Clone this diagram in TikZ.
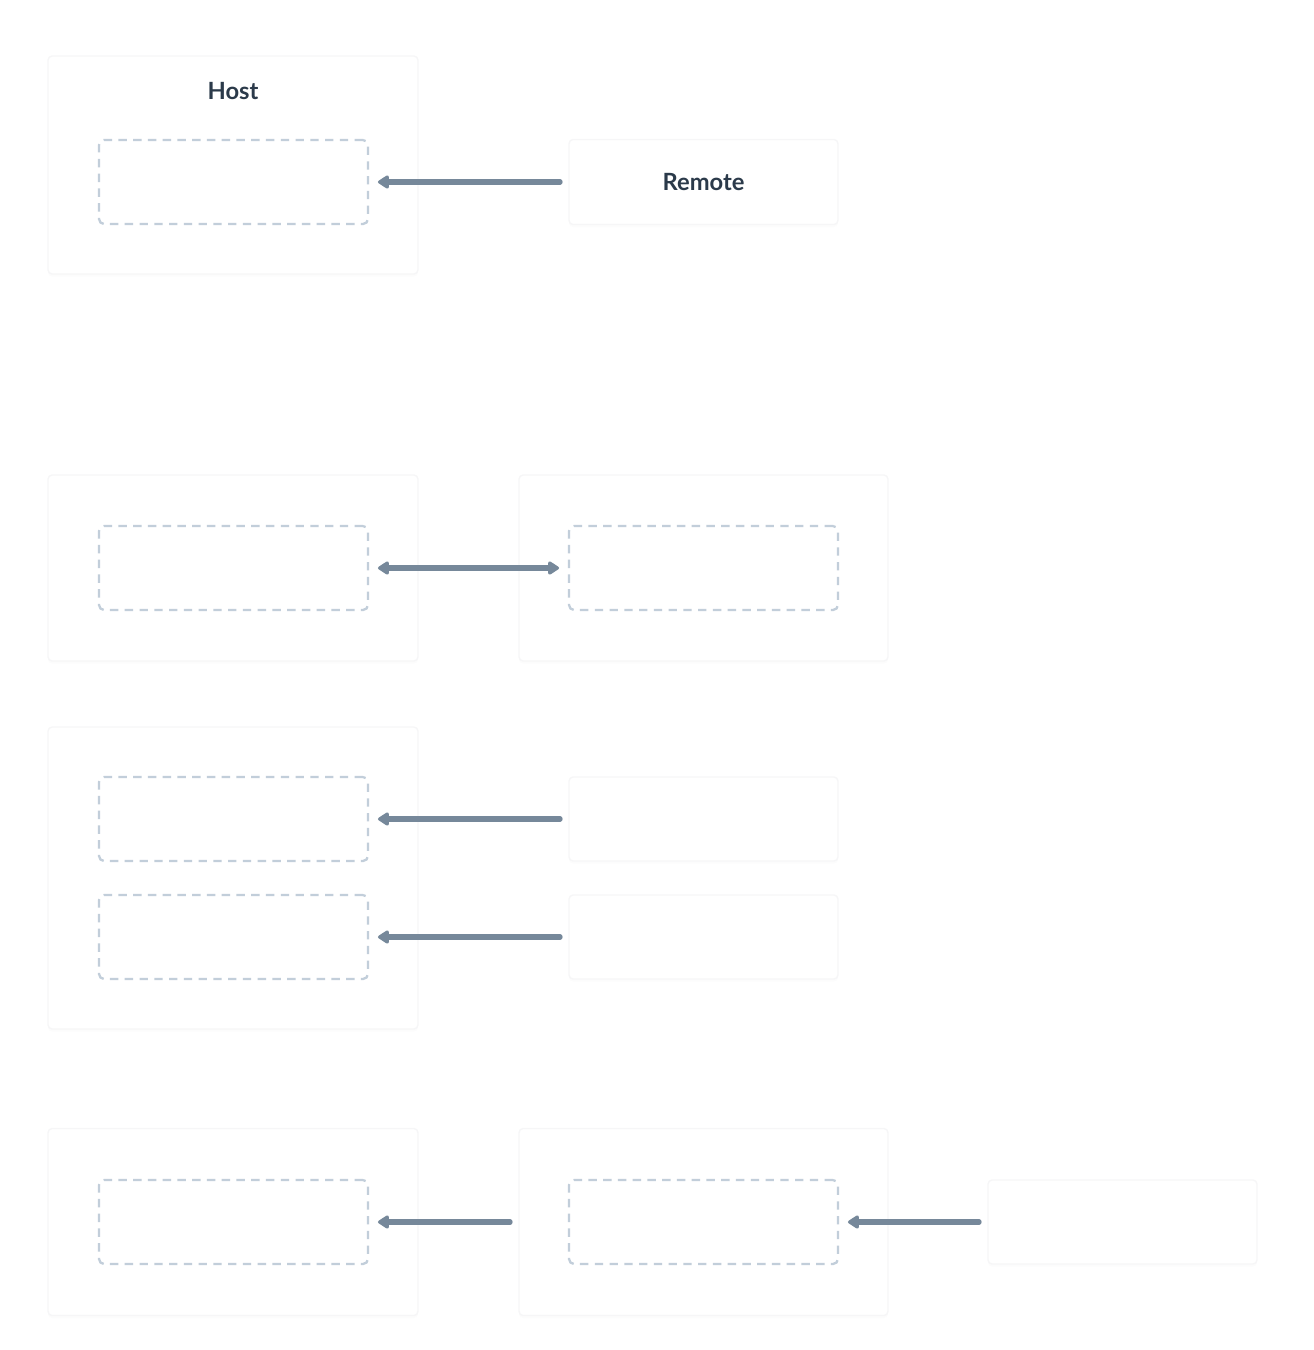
\documentclass[tikz,border=0pt]{standalone}
\usepackage{fontspec}
\setmainfont{Lato}
\usepackage{tikz}
\usetikzlibrary{arrows.meta, positioning, shadows}
\definecolor{textDark}{HTML}{2B3A4A}
\definecolor{arrowGray}{HTML}{76889A}
\definecolor{dashGray}{HTML}{C2CEDA}
\definecolor{edgeGray}{HTML}{F6F6F7}

\tikzset{
  panel/.style={draw=edgeGray, line width=0.8pt, fill=white, rounded corners=0.08cm, inner sep=0pt,
    outer xsep=0.18cm, outer ysep=0pt,
    drop shadow={opacity=0.025, shadow xshift=0pt, shadow yshift=-1.5pt}},
  slot/.style={draw=dashGray, line width=1.3pt, dash pattern=on 4.8pt off 3.6pt, rounded corners=0.1cm,
    fill=white, inner sep=0pt, outer xsep=0.2cm, outer ysep=0pt,
    minimum width=5.38cm, minimum height=1.68cm},
  tip/.tip={Triangle[length=7pt, width=8.5pt, round]},
  flow/.style={draw=arrowGray, line width=3pt, line cap=round, -tip},
  label/.style={text=textDark, font=\bfseries\fontsize{13.5}{16}\selectfont}
}

\begin{document}
\begin{tikzpicture}[x=0.02cm, y=-0.02cm]
    \useasboundingbox (0,0) rectangle (1314,1350);

    % first row
    \node[panel, minimum width=7.4cm, minimum height=4.36cm] (host) at (233,165) {};
    \node[label] (hostlabel) at (233,91) {Host};
    \node[slot] (hostslot) at (233.5,182) {};
    \node[panel, minimum width=5.38cm, minimum height=1.7cm, label] (remote) at (703.5,182) {Remote};
    \draw[flow] (remote.west) -- (hostslot.east);

    % second row
    \node[panel, minimum width=7.4cm, minimum height=3.72cm] (left) at (233,568) {};
    \node[slot] (leftslot) at (233.5,568) {};
    \node[panel, minimum width=7.38cm, minimum height=3.72cm] (right) at (703.5,568) {};
    \node[slot] (rightslot) at (703.5,568) {};
    \draw[flow, tip-tip] (leftslot.east) -- (rightslot.west);

    % third row
    \node[panel, minimum width=7.4cm, minimum height=6.04cm] (multi) at (233,878) {};
    \node[slot] (slotA) at (233.5,819) {};
    \node[slot] (slotB) at (233.5,937) {};
    \node[panel, minimum width=5.38cm, minimum height=1.68cm] (srcA) at (703.5,819) {};
    \node[panel, minimum width=5.38cm, minimum height=1.68cm] (srcB) at (703.5,937) {};
    \draw[flow] (srcA.west) -- (slotA.east);
    \draw[flow] (srcB.west) -- (slotB.east);

    % fourth row
    \node[panel, minimum width=7.4cm, minimum height=3.74cm] (outer) at (233,1222) {};
    \node[slot] (outerslot) at (233.5,1222) {};
    \node[panel, minimum width=7.38cm, minimum height=3.74cm] (middle) at (703.5,1222) {};
    \node[slot] (middleslot) at (703.5,1222) {};
    \node[panel, minimum width=5.38cm, minimum height=1.68cm] (source) at (1122.5,1222) {};
    \draw[flow] (middle.west) -- (outerslot.east);
    \draw[flow] (source.west) -- (middleslot.east);
\end{tikzpicture}
\end{document}
